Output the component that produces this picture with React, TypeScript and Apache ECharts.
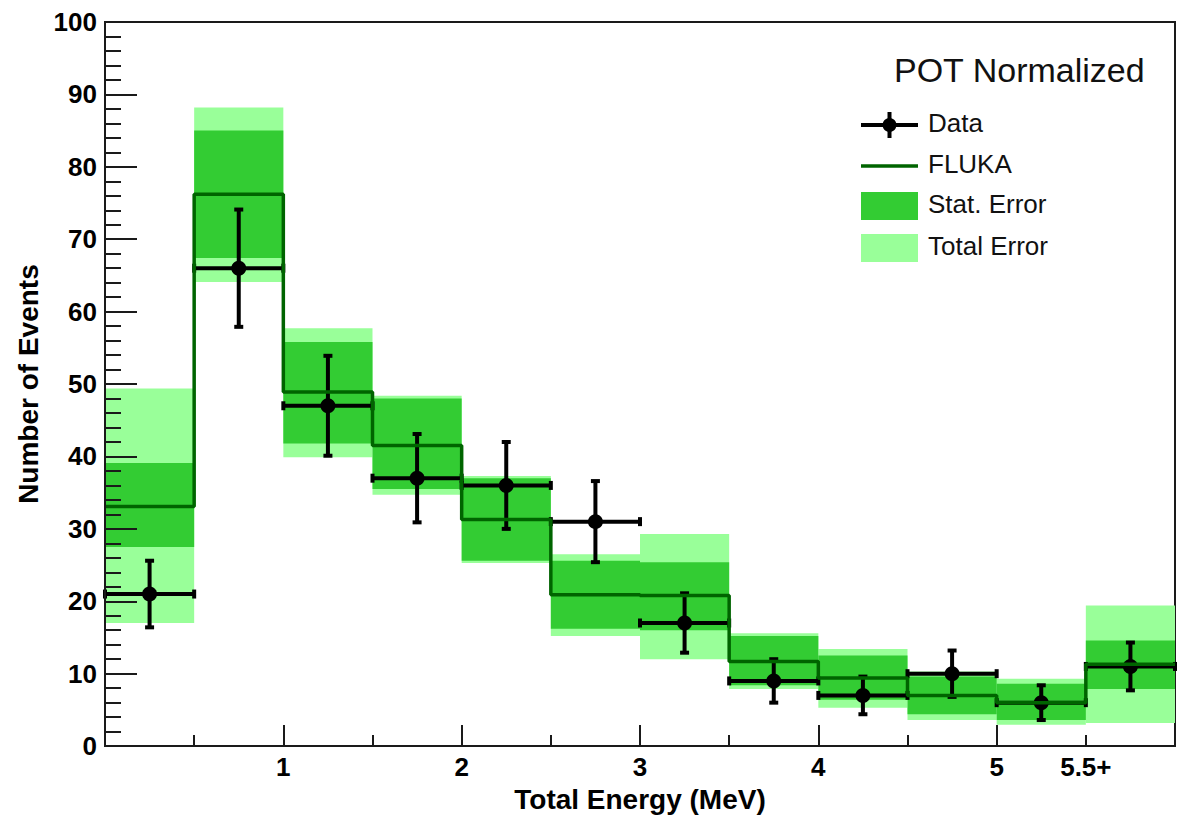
import React, { useEffect, useRef } from 'react';
import * as echarts from 'echarts';

// Energy bins (MeV); the last bin holds everything above 5.5 MeV
const binEdges = [0, 0.5, 1, 1.5, 2, 2.5, 3, 3.5, 4, 4.5, 5, 5.5, 6];
// Measured event counts and their errors
const dataCounts = [21, 66, 47, 37, 36, 31, 17, 9, 7, 10, 6, 11];
const dataErr = [4.6, 8.1, 6.9, 6.1, 6.0, 5.6, 4.1, 3.0, 2.6, 3.2, 2.4, 3.3];
// FLUKA prediction with statistical and total error bands
const flukaPred = [33.1, 76.2, 48.9, 41.5, 31.3, 20.9, 20.8, 11.7, 9.4, 7.0, 6.0, 11.3];
const statLow = [27.5, 67.4, 41.8, 35.5, 25.6, 16.2, 16.0, 8.4, 6.4, 4.4, 3.6, 7.9];
const statHigh = [39.1, 85.0, 55.8, 48.0, 37.0, 25.6, 25.4, 15.2, 12.5, 9.6, 8.6, 14.6];
const totalLow = [17.0, 64.1, 39.9, 34.7, 25.3, 15.2, 12.0, 7.9, 5.3, 3.6, 2.95, 3.2];
const totalHigh = [49.4, 88.2, 57.7, 48.4, 37.3, 26.5, 29.3, 15.6, 13.4, 10.3, 9.3, 19.4];
// Axis tick labels
const xIntegerLabels = [1, 2, 3, 4, 5];
const xOverflowValue = 5.5;
const xOverflowLabel = '5.5+';

const FONT = '"Liberation Sans", Arial, Helvetica, sans-serif';
const STAT_COLOR = '#33cc33';
const TOTAL_COLOR = '#99ff99';
const FLUKA_COLOR = '#006400';
const AXIS_COLOR = '#1a1a1a';

const bandRenderer = (color: string) => (params: any, api: any) => {
  const tl = api.coord([api.value(0), api.value(3)]);
  const br = api.coord([api.value(1), api.value(2)]);
  return {
    type: 'rect',
    shape: { x: tl[0], y: tl[1], width: br[0] - tl[0], height: br[1] - tl[1] },
    style: { fill: color },
  };
};

const pointRenderer = (params: any, api: any) => {
  const x0 = api.value(0);
  const x1 = api.value(1);
  const y = api.value(2);
  const e = api.value(3);
  const xc = (x0 + x1) / 2;
  const pL = api.coord([x0, y]);
  const pR = api.coord([x1, y]);
  const pC = api.coord([xc, y]);
  const pT = api.coord([xc, y + e]);
  const pB = api.coord([xc, y - e]);
  const st = { stroke: '#000', lineWidth: 4 };
  const cap = 4.5;
  const ln = (x1_: number, y1_: number, x2_: number, y2_: number) => ({
    type: 'line',
    shape: { x1: x1_, y1: y1_, x2: x2_, y2: y2_ },
    style: st,
  });
  return {
    type: 'group',
    children: [
      ln(pL[0], pL[1], pR[0], pR[1]),
      ln(pT[0], pT[1], pB[0], pB[1]),
      ln(pL[0], pL[1] - cap, pL[0], pL[1] + cap),
      ln(pR[0], pR[1] - cap, pR[0], pR[1] + cap),
      ln(pT[0] - cap, pT[1], pT[0] + cap, pT[1]),
      ln(pB[0] - cap, pB[1], pB[0] + cap, pB[1]),
      { type: 'circle', shape: { cx: pC[0], cy: pC[1], r: 7.5 }, style: { fill: '#000' } },
    ],
  };
};

export default function App() {
  const ref = useRef<HTMLDivElement>(null);

  useEffect(() => {
    if (!ref.current) return;
    const chart = echarts.init(ref.current, null, { renderer: 'svg' });

    const bins = dataCounts.map((_, i) => [binEdges[i], binEdges[i + 1]]);
    const totalData = bins.map((b, i) => [b[0], b[1], totalLow[i], totalHigh[i]]);
    const statData = bins.map((b, i) => [b[0], b[1], statLow[i], statHigh[i]]);
    const pointData = bins.map((b, i) => [b[0], b[1], dataCounts[i], dataErr[i]]);
    const flukaStep = binEdges.map((x, i) => [x, flukaPred[Math.min(i, flukaPred.length - 1)]]);

    const legendX = 861;
    const legendTextX = 928;
    const rows = [125, 166, 206, 248];
    const legendText = (text: string, y: number) => ({
      type: 'text',
      left: legendTextX,
      top: y - 15,
      style: { text, fontSize: 26, fontFamily: FONT, fill: '#111' },
    });

    chart.setOption({
      animation: false,
      backgroundColor: '#fff',
      grid: {
        left: 105,
        top: 22,
        width: 1080,
        height: 733,
        show: true,
        borderColor: AXIS_COLOR,
        borderWidth: 2,
        backgroundColor: 'transparent',
      },
      xAxis: [
        {
          type: 'value',
          min: 0,
          max: 6,
          interval: 1,
          position: 'bottom',
          z: 10,
          name: 'Total Energy (MeV)',
          nameLocation: 'middle',
          nameGap: 34,
          nameTextStyle: { fontSize: 28, fontWeight: 'bold', fontFamily: FONT, color: '#000' },
          axisLine: { show: true, lineStyle: { color: AXIS_COLOR, width: 2 } },
          axisTick: { show: true, inside: true, length: 21, lineStyle: { color: AXIS_COLOR, width: 2 } },
          minorTick: { show: true, splitNumber: 2, length: 11, lineStyle: { color: AXIS_COLOR, width: 2 } },
          splitLine: { show: false },
          axisLabel: {
            margin: 8,
            fontSize: 26,
            fontWeight: 'bold',
            fontFamily: FONT,
            color: '#000',
            formatter: (v: number) => (xIntegerLabels.includes(v) ? String(v) : ''),
          },
        },
        {
          type: 'value',
          min: 0,
          max: 6,
          interval: 0.5,
          position: 'bottom',
          z: 10,
          axisLine: { show: false },
          axisTick: { show: false },
          splitLine: { show: false },
          axisLabel: {
            margin: 8,
            fontSize: 26,
            fontWeight: 'bold',
            fontFamily: FONT,
            color: '#000',
            formatter: (v: number) => (Math.abs(v - xOverflowValue) < 1e-9 ? xOverflowLabel : ''),
          },
        },
      ],
      yAxis: {
        type: 'value',
        min: 0,
        max: 100,
        interval: 10,
        z: 10,
        name: 'Number of Events',
        nameLocation: 'middle',
        nameGap: 63,
        nameTextStyle: { fontSize: 28, fontWeight: 'bold', fontFamily: FONT, color: '#000' },
        axisLine: { show: true, lineStyle: { color: AXIS_COLOR, width: 2 } },
        axisTick: { show: true, inside: true, length: 32, lineStyle: { color: AXIS_COLOR, width: 2 } },
        minorTick: { show: true, splitNumber: 5, length: 16, lineStyle: { color: AXIS_COLOR, width: 2 } },
        splitLine: { show: false },
        axisLabel: {
          margin: 8,
          fontSize: 26,
          fontWeight: 'bold',
          fontFamily: FONT,
          color: '#000',
        },
      },
      series: [
        {
          name: 'Total Error',
          type: 'custom',
          renderItem: bandRenderer(TOTAL_COLOR),
          encode: { x: [0, 1], y: [2, 3] },
          data: totalData,
        },
        {
          name: 'Stat. Error',
          type: 'custom',
          renderItem: bandRenderer(STAT_COLOR),
          encode: { x: [0, 1], y: [2, 3] },
          data: statData,
        },
        {
          name: 'FLUKA',
          type: 'line',
          step: 'end',
          showSymbol: false,
          symbol: 'none',
          lineStyle: { color: FLUKA_COLOR, width: 3.5 },
          data: flukaStep,
        },
        {
          name: 'Data',
          type: 'custom',
          renderItem: pointRenderer,
          encode: { x: [0, 1], y: 2 },
          data: pointData,
        },
      ],
      graphic: [
        {
          type: 'text',
          left: 894,
          top: 53,
          style: { text: 'POT Normalized', fontSize: 34, fontFamily: FONT, fill: '#111' },
        },
        // Data marker
        {
          type: 'line',
          shape: { x1: legendX, y1: rows[0], x2: legendX + 57, y2: rows[0] },
          style: { stroke: '#000', lineWidth: 4 },
        },
        {
          type: 'line',
          shape: { x1: legendX + 28.5, y1: rows[0] - 13, x2: legendX + 28.5, y2: rows[0] + 13 },
          style: { stroke: '#000', lineWidth: 4 },
        },
        {
          type: 'circle',
          shape: { cx: legendX + 28.5, cy: rows[0], r: 7 },
          style: { fill: '#000' },
        },
        legendText('Data', rows[0]),
        // FLUKA line
        {
          type: 'line',
          shape: { x1: legendX, y1: rows[1], x2: legendX + 57, y2: rows[1] },
          style: { stroke: FLUKA_COLOR, lineWidth: 3.5 },
        },
        legendText('FLUKA', rows[1]),
        // Error boxes
        {
          type: 'rect',
          shape: { x: legendX, y: rows[2] - 14, width: 57, height: 28 },
          style: { fill: STAT_COLOR },
        },
        legendText('Stat. Error', rows[2]),
        {
          type: 'rect',
          shape: { x: legendX, y: rows[3] - 14, width: 57, height: 28 },
          style: { fill: TOTAL_COLOR },
        },
        legendText('Total Error', rows[3]),
      ],
    });

    return () => chart.dispose();
  }, []);

  return (
    <div
      ref={ref}
      style={{ position: 'fixed', left: 0, top: 0, width: 1178, height: 818, background: '#fff' }}
    />
  );
}
